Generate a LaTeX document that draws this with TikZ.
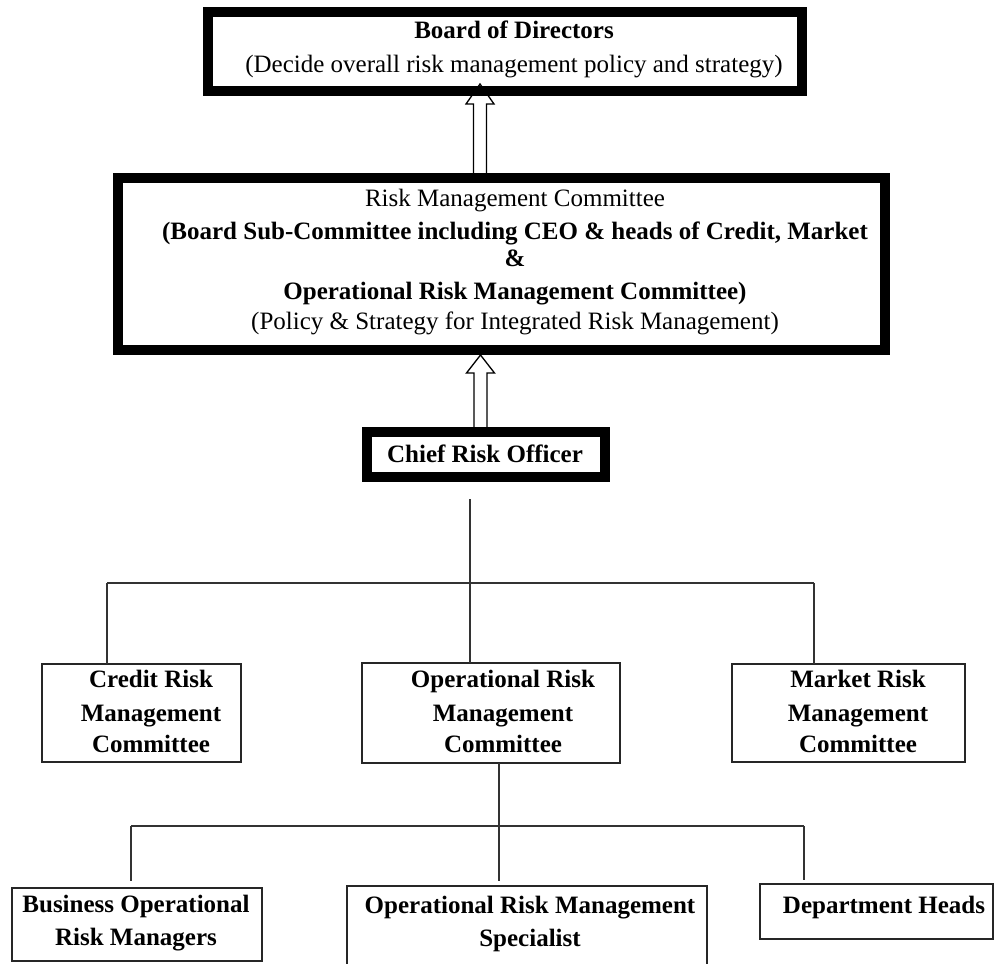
\documentclass[tikz,border=0pt]{standalone}
\usepackage{fontspec}
\setmainfont{Liberation Serif}
\usetikzlibrary{calc}
\begin{document}
\begin{tikzpicture}[x=1pt,y=-1pt,
  thickbox/.style={draw=black, line width=10pt, inner sep=0pt, outer sep=0pt},
  thinbox/.style={draw=black!85, line width=1.8pt, inner sep=0pt, outer sep=0pt},
  txt/.style={align=center, inner sep=0pt, font=\fontsize{25}{32}\selectfont},
  btxt/.style={align=center, inner sep=0pt, font=\fontsize{25}{32}\selectfont\bfseries},
  conn/.style={draw=black!80, line width=1.5pt},
  blockarrow/.style={draw=black, line width=1.3pt, line join=miter}
]
\useasboundingbox (0,0) rectangle (995,963);

% thick boxes
\node[thickbox, minimum width=594pt, minimum height=79pt] (board) at (505,51.5) {};
\node[txt] (boardtxt) at (514,49) {\textbf{Board of Directors}\\[2pt](Decide overall risk management policy and strategy)};

\node[thickbox, minimum width=767pt, minimum height=172pt] (rmc) at (501.5,264) {};
\node[txt] (rmctxt) at (515,262) {Risk Management Committee\\[1pt]
  \textbf{(Board Sub-Committee including CEO \& heads of Credit, Market}\\[-5pt]
  \textbf{\&}\\[1pt]
  \textbf{Operational Risk Management Committee)}\\[-2pt]
  (Policy \& Strategy for Integrated Risk Management)};

\node[thickbox, minimum width=238pt, minimum height=45pt] (cro) at (486,454.5) {};
\node[btxt] (crotxt) at (485,454) {Chief Risk Officer};

% committees
\node[thinbox, minimum width=199pt, minimum height=98pt] (credit) at (141.5,713) {};
\node[btxt] (credittxt) at (151,711) {Credit Risk\\[2pt]Management\\[-1pt]Committee};
\node[thinbox, minimum width=258pt, minimum height=100pt] (opc) at (491,713) {};
\node[btxt] (opctxt) at (503,711) {Operational Risk\\[2pt]Management\\[-1pt]Committee};
\node[thinbox, minimum width=233pt, minimum height=98pt] (market) at (848.5,713) {};
\node[btxt] (markettxt) at (858,711) {Market Risk\\[2pt]Management\\[-1pt]Committee};

% bottom row
\node[thinbox, minimum width=250pt, minimum height=73pt] (bus) at (137,924.5) {};
\node[btxt] (bustxt) at (136,923.5) {Business Operational\\[1pt]Risk Managers};
\node[thinbox, minimum width=360pt, minimum height=89pt] (spec) at (527,930.5) {};
\node[btxt] (spectxt) at (530,924) {Operational Risk Management\\[1pt]Specialist};
\node[thinbox, minimum width=233pt, minimum height=55pt] (dept) at (876.5,911.5) {};
\node[btxt] (depttxt) at (884,907) {Department Heads};

% block arrows
\coordinate (a1t) at (480,84);
\coordinate (a1b) at (480,175);
\draw[blockarrow] ($(a1b)+(-6.5,0)$) -- ($(a1t)+(-6.5,20)$) -- ($(a1t)+(-14,20)$) -- (a1t)
  -- ($(a1t)+(14,20)$) -- ($(a1t)+(6.5,20)$) -- ($(a1b)+(6.5,0)$);
\coordinate (a2t) at (480.5,355);
\coordinate (a2b) at (480.5,427);
\draw[blockarrow] ($(a2b)+(-6.5,0)$) -- ($(a2t)+(-6.5,18)$) -- ($(a2t)+(-14,18)$) -- (a2t)
  -- ($(a2t)+(14,18)$) -- ($(a2t)+(6.5,18)$) -- ($(a2b)+(6.5,0)$);

% connectors level 1
\coordinate (crotail) at (470,499);
\coordinate (hub1) at (470,583);
\coordinate (bus1L) at (107,583);
\coordinate (bus1R) at (814,583);
\draw[conn] (crotail) -- (hub1);
\draw[conn] (bus1L) -- (bus1R);
\draw[conn] (bus1L) -- (bus1L |- credit.north);
\draw[conn] (hub1) -- (hub1 |- opc.north);
\draw[conn] (bus1R) -- (bus1R |- market.north);

% connectors level 2
\coordinate (hub2) at (499,826);
\coordinate (bus2L) at (131,826);
\coordinate (bus2R) at (804,826);
\draw[conn] (hub2 |- opc.south) -- (hub2);
\draw[conn] (bus2L) -- (bus2R);
\draw[conn] (bus2L) -- ($(bus2L)+(0,55)$);
\draw[conn] (hub2) -- ($(hub2)+(0,55)$);
\draw[conn] (bus2R) -- ($(bus2R)+(0,54)$);
\end{tikzpicture}
\end{document}
